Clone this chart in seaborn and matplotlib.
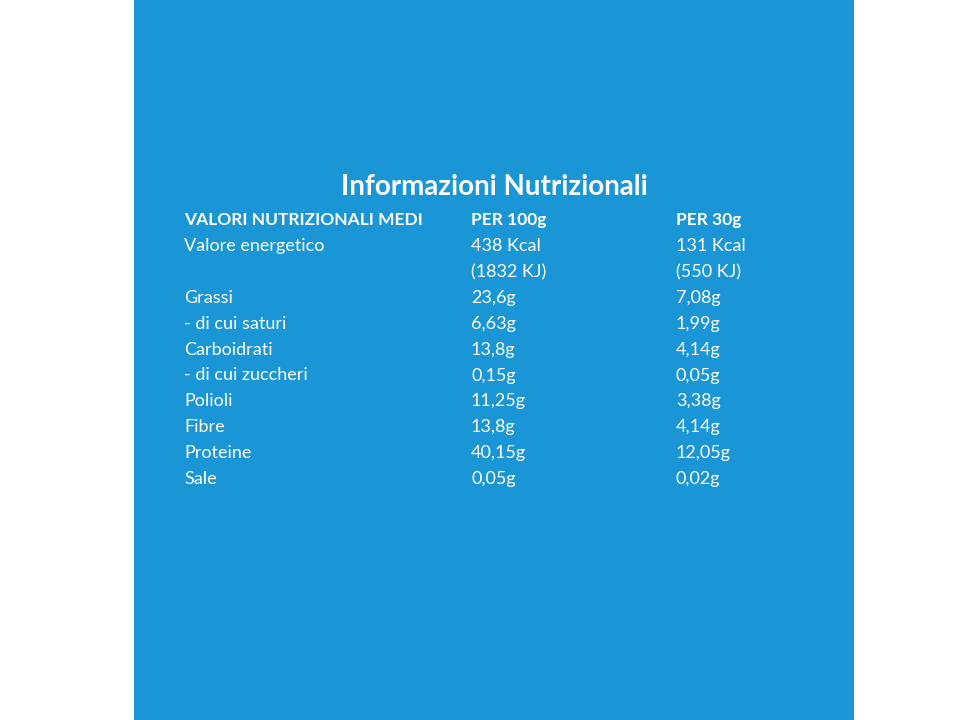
import matplotlib
matplotlib.use("Agg")
import matplotlib.pyplot as plt
import seaborn as sns

title = "Informazioni Nutrizionali"
headers = ["VALORI NUTRIZIONALI MEDI", "PER 100g", "PER 30g"]
nutrients = ["Valore energetico", "", "Grassi", "- di cui saturi", "Carboidrati",
             "- di cui zuccheri", "Polioli", "Fibre", "Proteine", "Sale"]
per100 = ["438 Kcal", "(1832 KJ)", "23,6g", "6,63g", "13,8g", "0,15g", "11,25g",
          "13,8g", "40,15g", "0,05g"]
per30 = ["131 Kcal", "(550 KJ)", "7,08g", "1,99g", "4,14g", "0,05g", "3,38g",
         "4,14g", "12,05g", "0,02g"]

sns.set_style("white")
plt.rcParams['font.family'] = ['Lato', 'DejaVu Sans']
blue = "#1a95d5"

fig = plt.figure(figsize=(9.6, 7.2), dpi=100)
fig.patch.set_facecolor("white")
ax = fig.add_axes([134/960, 0, 720/960, 1])
ax.set_facecolor(blue)
ax.set_xlim(0, 720)
ax.set_ylim(720, 0)
ax.set_xticks([]); ax.set_yticks([])
for s in ax.spines.values():
    s.set_visible(False)

ax.text(494-134, 187, title, color="white", fontsize=20, fontweight="bold",
        ha="center", va="center")
cols = [184-134, 471-134, 676-134]
for x, h in zip(cols, headers):
    ax.text(x, 220, h, color="white", fontsize=12.5, fontweight="bold", va="center")
for i, (a, b, c) in enumerate(zip(nutrients, per100, per30)):
    y = 246 + i*25.9
    for x, t in zip(cols, (a, b, c)):
        ax.text(x, y, t, color="white", fontsize=13, va="center")

fig.savefig("out.png", dpi=100)
